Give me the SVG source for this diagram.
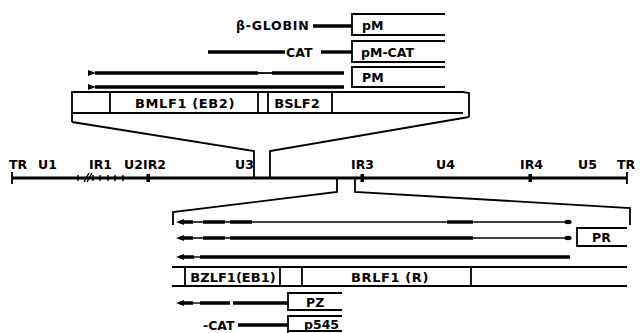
<svg xmlns="http://www.w3.org/2000/svg" width="642" height="333" viewBox="0 0 642 333">
<style>
text{font-family:"DejaVu Sans","Liberation Sans",sans-serif;font-weight:bold;fill:#000}
.lb{font-size:12.5px}
.bx{font-size:13px;text-anchor:middle}
.ln{stroke:#000;stroke-width:1.8;fill:none}
.th{stroke:#000;stroke-width:3.4;fill:none}
.tn{stroke:#000;stroke-width:1.4;fill:none}
.gn{stroke:#000;stroke-width:3;fill:none}
</style>
<defs>
<marker id="ah" viewBox="0 0 8 6" refX="1" refY="3" markerWidth="8" markerHeight="6" markerUnits="userSpaceOnUse" orient="auto-start-reverse">
<path d="M0,3 L8,0 L8,6 Z" fill="#000"/>
</marker>
</defs>
<rect width="642" height="333" fill="#fff"/>

<g id="pM">
<path class="ln" d="M445,14 H352 V35 H445"/>
<text class="lb" x="362" y="30">pM</text>
<text class="lb" x="236" y="30" letter-spacing="0.8">β-GLOBIN</text>
<path class="th" d="M313,26 H352"/>
</g>

<g id="pM-CAT">
<path class="ln" d="M445,41 H352 V62 H445"/>
<text class="lb" x="361" y="57">pM-CAT</text>
<path class="th" d="M208,52 H285"/>
<text class="lb" x="286" y="57">CAT</text>
<path class="th" d="M321,52 H352"/>
</g>

<g id="PM">
<path class="ln" d="M445,67 H352 V87 H445"/>
<text class="lb" x="362" y="82">PM</text>
</g>

<g id="upper-orfs">
<path class="ln" d="M72,122 V92 H463 L469,93 V117"/>
<path class="ln" d="M72,113 H463"/>
<path class="ln" d="M110,92 V113 M258,92 V113 M268,92 V113 M332,92 V113"/>
<text class="bx" x="185" y="108" letter-spacing="0.6">BMLF1 (EB2)</text>
<text class="bx" x="297" y="108">BSLF2</text>
</g>

<g id="genome">
<path class="gn" d="M12,178 H627"/>
<path class="ln" d="M12,172 V184 M627,172 V184"/>
<path class="tn" d="M78,175 V181 M93,175 V181 M100,175 V181 M108,175 V181 M115,175 V181 M123,175 V181"/>
<path class="tn" d="M84,182 L89,173 M87,182 L92,173"/>
<rect x="146.5" y="174" width="3.5" height="8" fill="#000"/>
<rect x="360.5" y="174" width="3.5" height="8" fill="#000"/>
<rect x="528.5" y="174" width="3.5" height="8" fill="#000"/>
<text class="lb" x="9" y="169">TR</text>
<text class="lb" x="38" y="169">U1</text>
<text class="lb" x="89" y="169">IR1</text>
<text class="lb" x="124" y="169">U2</text>
<text class="lb" x="143" y="169">IR2</text>
<text class="lb" x="235" y="169">U3</text>
<text class="lb" x="351" y="169">IR3</text>
<text class="lb" x="436" y="169">U4</text>
<text class="lb" x="520" y="169">IR4</text>
<text class="lb" x="578" y="169">U5</text>
<text class="lb" x="617" y="169">TR</text>
</g>

<g id="connectors">
<path class="ln" d="M72,122 L254,151 V178"/>
<path class="ln" d="M469,117 L270,151 V178"/>
<path class="ln" d="M337,178 V192 L173,212 V225"/>
<path class="ln" d="M355,178 V192 L630,208 V225"/>
<path class="th" d="M95,73 H258" marker-start="url(#ah)"/>
<path class="ln" d="M258,73 H272"/>
<path class="th" d="M272,73 H344"/>
<path class="th" d="M95,87 H344" marker-start="url(#ah)"/>
<path class="th" d="M180,222 H193 M203,222 H225 M230,222 H252"/>
<path d="M176,222 L184,219 L184,225 Z" fill="#000"/>
<path class="tn" d="M193,222 H203 M225,222 H230 M252,222 H447"/>
<path class="th" d="M447,222 H473"/>
<path class="tn" d="M473,222 H566"/>
<ellipse cx="568" cy="222" rx="3.5" ry="2.2" fill="#000"/>
<path class="th" d="M180,238 H193 M203,238 H225 M230,238 H473"/>
<path d="M176,238 L184,235 L184,241 Z" fill="#000"/>
<path class="tn" d="M193,238 H203 M225,238 H230 M473,238 H566"/>
<ellipse cx="568" cy="238" rx="3.5" ry="2.2" fill="#000"/>
<path class="th" d="M180,257 H194 M200,257 H570"/>
<path d="M176,257 L184,254 L184,260 Z" fill="#000"/>
<path class="tn" d="M194,257 H200"/>
<path class="th" d="M180,303 H193 M200,303 H230 M233,303 H288"/>
<path d="M176,303 L184,300 L184,306 Z" fill="#000"/>
<path class="tn" d="M193,303 H200"/>
<path class="th" d="M238,325 H288"/>
</g>

<g id="PR">
<path class="ln" d="M627,228 H577 V246 H627"/>
<text class="lb" x="592" y="242">PR</text>
</g>

<g id="lower-orfs">
<path class="ln" d="M172,267 H627 M172,286 H627"/>
<path class="ln" d="M185,267 V286 M280,267 V286 M302,267 V286 M471,267 V286"/>
<text class="bx" x="233" y="282">BZLF1(EB1)</text>
<text class="bx" x="390" y="282" letter-spacing="0.6">BRLF1 (R)</text>
</g>

<g id="PZ">
<path class="ln" d="M342,293 H288 V310 H342"/>
<text class="lb" x="306" y="307">PZ</text>
</g>

<g id="p545">
<path class="ln" d="M342,316 H288 V333 M288,331 H342"/>
<text class="lb" x="304" y="329">p545</text>
<text class="lb" x="203" y="330">-CAT</text>
</g>
</svg>
